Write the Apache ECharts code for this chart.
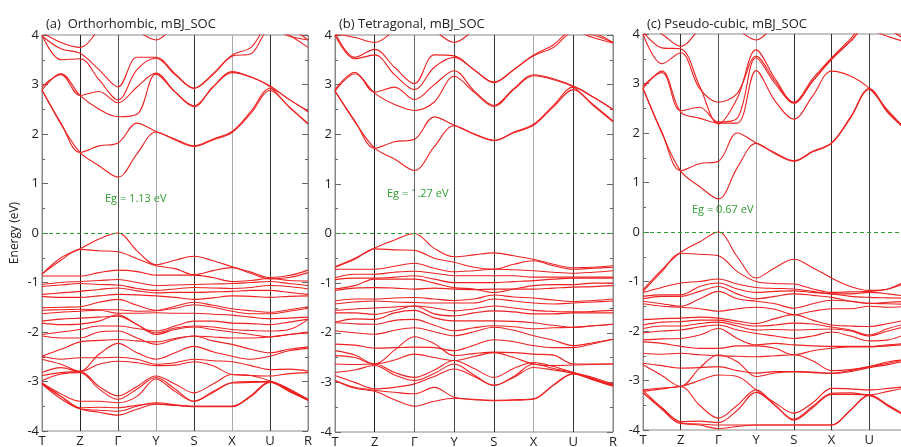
<!DOCTYPE html>
<html>
<head>
<meta charset="utf-8">
<script src="https://cdn.jsdelivr.net/npm/echarts@6/dist/echarts.min.js"></script>
<style>
  html, body { margin: 0; padding: 0; background: #fff; }
  #main { width: 901px; height: 447px; }
</style>
</head>
<body>
<div id="main"></div>
<script>
// k path labels and sampling (high-symmetry points + midpoints)
var kLabels = ['T', 'Z', 'Γ', 'Y', 'S', 'X', 'U', 'R'];
var kGrid = [0, 0.5, 1, 1.5, 2, 2.5, 3, 3.5, 4, 4.5, 5, 5.5, 6, 6.5, 7];
var titles = ['(a)  Orthorhombic, mBJ_SOC', '(b) Tetragonal, mBJ_SOC', '(c) Pseudo-cubic, mBJ_SOC'];
var gaps = ['Eg = 1.13 eV', 'Eg = 1.27 eV', 'Eg = 0.67 eV'];

// (a) orthorhombic: energies (eV) at T, TZ, Z, ZΓ, Γ, ΓY, Y, YS, S, SX, X, XU, U, UR, R
var condA = [
    [2.89, 2.20, 1.63, 1.36, 1.13, 1.60, 2.04, 1.88, 1.75, 1.88, 2.03, 2.42, 2.88, 2.55, 2.20],
    [2.89, 2.22, 1.63, 1.76, 1.82, 2.22, 2.05, 1.90, 1.76, 1.90, 2.05, 2.46, 2.92, 2.70, 2.45],
    [2.89, 3.22, 2.78, 2.50, 2.35, 2.40, 3.21, 2.85, 2.55, 2.95, 3.24, 3.15, 2.95, 2.55, 2.22],
    [2.95, 3.20, 2.78, 2.86, 2.63, 2.95, 3.23, 2.85, 2.57, 2.95, 3.26, 3.15, 2.97, 2.70, 2.47],
    [4.00, 3.50, 3.52, 3.10, 2.69, 3.30, 3.53, 3.20, 2.92, 3.20, 3.57, 3.62, 4.10, 4.10, 3.90],
    [3.98, 3.72, 3.63, 3.30, 2.95, 3.55, 3.55, 3.22, 2.93, 3.22, 3.59, 3.75, 4.20, 4.00, 3.75],
    [4.05, 3.85, 3.75, 4.10, 4.40, 4.10, 3.90, 4.20, 4.50, 4.50, 4.40, 4.30, 4.15, 3.98, 3.90]
];
var valA = [
    [-0.83, -0.50, -0.32, -0.12, 0.00, -0.36, -0.64, -0.55, -0.47, -0.56, -0.68, -0.79, -0.90, -0.86, -0.75],
    [-0.83, -0.55, -0.33, -0.36, -0.38, -0.52, -0.66, -0.72, -0.84, -0.76, -0.70, -0.82, -0.93, -0.90, -0.80],
    [-0.87, -0.87, -0.87, -0.80, -0.75, -0.78, -0.85, -0.85, -0.85, -0.90, -0.98, -0.96, -0.92, -0.96, -0.97],
    [-1.04, -1.00, -0.98, -0.96, -0.94, -1.00, -1.06, -1.05, -1.04, -1.03, -1.02, -1.00, -0.98, -1.02, -1.06],
    [-1.08, -1.05, -1.02, -1.04, -1.05, -1.12, -1.16, -1.13, -1.10, -1.11, -1.12, -1.10, -1.06, -1.08, -1.13],
    [-1.24, -1.21, -1.18, -1.14, -1.11, -1.17, -1.21, -1.20, -1.20, -1.19, -1.18, -1.16, -1.16, -1.20, -1.24],
    [-1.28, -1.30, -1.30, -1.27, -1.24, -1.25, -1.27, -1.30, -1.34, -1.31, -1.27, -1.28, -1.30, -1.28, -1.27],
    [-1.51, -1.50, -1.49, -1.40, -1.34, -1.46, -1.56, -1.48, -1.40, -1.46, -1.53, -1.57, -1.60, -1.55, -1.49],
    [-1.56, -1.55, -1.54, -1.55, -1.55, -1.58, -1.57, -1.52, -1.45, -1.50, -1.58, -1.63, -1.63, -1.58, -1.52],
    [-1.63, -1.60, -1.58, -1.56, -1.62, -1.62, -1.61, -1.62, -1.62, -1.64, -1.66, -1.70, -1.73, -1.72, -1.70],
    [-1.78, -1.74, -1.72, -1.70, -1.68, -1.85, -2.02, -1.92, -1.88, -1.90, -1.95, -1.97, -1.98, -1.95, -1.75],
    [-1.82, -1.85, -1.84, -1.78, -1.65, -1.85, -2.05, -1.95, -1.90, -1.95, -2.00, -2.05, -2.10, -2.05, -2.00],
    [-2.05, -2.00, -1.95, -1.88, -1.88, -1.93, -1.98, -1.88, -1.78, -1.78, -1.82, -1.83, -1.85, -1.80, -1.74],
    [-2.08, -2.12, -2.12, -2.00, -1.98, -2.12, -2.25, -2.15, -2.08, -2.10, -2.12, -2.12, -2.10, -2.05, -2.02],
    [-2.49, -2.35, -2.20, -2.17, -2.15, -2.18, -2.20, -2.13, -2.08, -2.18, -2.25, -2.35, -2.42, -2.35, -2.30],
    [-2.55, -2.65, -2.79, -2.45, -2.23, -2.42, -2.55, -2.42, -2.29, -2.40, -2.49, -2.55, -2.49, -2.38, -2.33],
    [-2.49, -2.55, -2.52, -2.52, -2.51, -2.55, -2.65, -2.62, -2.55, -2.58, -2.60, -2.68, -2.76, -2.75, -2.79],
    [-2.82, -2.72, -2.80, -2.65, -2.59, -2.62, -2.68, -2.67, -2.60, -2.68, -2.86, -2.88, -2.89, -2.84, -2.82],
    [-2.88, -2.82, -2.80, -3.10, -3.29, -3.10, -2.89, -3.05, -3.23, -3.05, -2.86, -2.88, -2.99, -3.15, -3.36],
    [-2.98, -2.85, -2.82, -3.15, -3.36, -3.15, -2.92, -3.15, -3.40, -3.20, -3.02, -3.00, -3.00, -3.18, -3.38],
    [-3.03, -3.25, -3.40, -3.40, -3.43, -3.30, -2.95, -3.20, -3.40, -3.22, -3.03, -3.02, -3.01, -3.15, -3.38],
    [-3.05, -3.30, -3.53, -3.52, -3.53, -3.48, -3.45, -3.48, -3.50, -3.50, -3.50, -3.30, -3.01, -3.18, -3.36],
    [-3.05, -3.35, -3.55, -3.58, -3.60, -3.50, -3.43, -3.47, -3.50, -3.50, -3.50, -3.30, -3.02, -3.20, -3.38],
    [-3.03, -3.30, -3.55, -3.62, -3.68, -3.56, -3.46, -3.48, -3.51, -3.51, -3.51, -3.28, -3.00, -3.18, -3.36]
];

// (b) tetragonal
var condB = [
    [2.87, 2.25, 1.72, 1.50, 1.27, 1.75, 2.17, 2.00, 1.87, 2.03, 2.18, 2.55, 2.90, 2.58, 2.25],
    [2.87, 2.27, 1.72, 1.85, 1.90, 2.35, 2.18, 2.01, 1.88, 2.04, 2.20, 2.58, 2.95, 2.75, 2.50],
    [2.87, 3.22, 2.83, 2.60, 2.48, 2.65, 3.17, 2.85, 2.56, 2.90, 3.18, 3.10, 2.95, 2.60, 2.27],
    [2.90, 3.25, 2.85, 2.95, 2.70, 3.00, 3.28, 2.88, 2.58, 2.92, 3.20, 3.12, 2.97, 2.75, 2.50],
    [4.00, 3.52, 3.60, 3.20, 2.90, 3.35, 3.55, 3.30, 3.04, 3.30, 3.58, 3.75, 4.05, 4.00, 3.85],
    [4.05, 3.55, 3.71, 3.35, 3.02, 3.60, 3.58, 3.30, 3.05, 3.30, 3.60, 3.80, 4.10, 4.05, 3.85],
    [4.02, 3.95, 3.85, 4.10, 4.40, 4.10, 3.85, 4.10, 4.40, 4.40, 4.30, 4.20, 4.10, 3.95, 3.84]
];
var valB = [
    [-0.67, -0.50, -0.29, -0.13, 0.00, -0.30, -0.47, -0.43, -0.39, -0.45, -0.52, -0.62, -0.69, -0.68, -0.65],
    [-0.68, -0.52, -0.31, -0.33, -0.34, -0.50, -0.58, -0.68, -0.72, -0.62, -0.55, -0.65, -0.72, -0.70, -0.68],
    [-0.72, -0.72, -0.72, -0.66, -0.60, -0.70, -0.77, -0.75, -0.72, -0.73, -0.75, -0.78, -0.80, -0.78, -0.75],
    [-0.89, -0.82, -0.82, -0.78, -0.76, -0.80, -0.85, -0.85, -0.85, -0.85, -0.88, -0.88, -0.88, -0.88, -0.88],
    [-0.93, -0.90, -0.90, -0.88, -0.85, -0.92, -0.99, -0.99, -0.99, -0.97, -0.95, -0.92, -0.90, -0.90, -0.90],
    [-1.12, -1.05, -0.92, -0.92, -0.92, -1.00, -1.09, -1.12, -1.19, -1.12, -1.05, -1.03, -1.03, -1.00, -1.00],
    [-1.15, -1.10, -1.09, -1.10, -1.12, -1.10, -1.12, -1.13, -1.12, -1.12, -1.12, -1.10, -1.08, -1.07, -1.05],
    [-1.36, -1.32, -1.32, -1.30, -1.29, -1.32, -1.35, -1.32, -1.24, -1.28, -1.30, -1.34, -1.37, -1.35, -1.32],
    [-1.42, -1.38, -1.36, -1.38, -1.39, -1.40, -1.40, -1.40, -1.32, -1.36, -1.40, -1.42, -1.40, -1.38, -1.36],
    [-1.55, -1.52, -1.50, -1.48, -1.46, -1.50, -1.56, -1.52, -1.46, -1.50, -1.55, -1.57, -1.58, -1.57, -1.55],
    [-1.60, -1.60, -1.63, -1.55, -1.46, -1.62, -1.66, -1.60, -1.56, -1.58, -1.62, -1.62, -1.60, -1.60, -1.60],
    [-1.79, -1.72, -1.73, -1.60, -1.55, -1.70, -1.76, -1.76, -1.76, -1.77, -1.80, -1.85, -1.89, -1.86, -1.83],
    [-1.80, -1.82, -1.83, -1.75, -1.73, -1.85, -1.96, -1.90, -1.86, -1.88, -1.92, -1.90, -1.89, -1.86, -1.83],
    [-1.96, -2.00, -2.03, -1.95, -1.90, -1.98, -2.06, -1.98, -1.89, -1.95, -2.06, -2.15, -2.26, -2.20, -2.13],
    [-2.23, -2.25, -2.31, -2.30, -2.29, -2.30, -2.36, -2.25, -2.14, -2.18, -2.26, -2.30, -2.30, -2.22, -2.13],
    [-2.36, -2.45, -2.63, -2.35, -2.08, -2.22, -2.46, -2.42, -2.39, -2.40, -2.43, -2.45, -2.63, -2.63, -2.63],
    [-2.46, -2.50, -2.63, -2.55, -2.43, -2.50, -2.56, -2.48, -2.40, -2.50, -2.63, -2.66, -2.65, -2.64, -2.63],
    [-2.63, -2.64, -2.63, -2.80, -2.90, -2.75, -2.56, -2.72, -2.90, -2.72, -2.60, -2.68, -2.80, -2.90, -3.03],
    [-2.80, -2.75, -2.66, -2.85, -2.96, -2.82, -2.63, -2.85, -3.06, -2.88, -2.63, -2.72, -2.80, -2.92, -3.05],
    [-2.86, -3.00, -3.13, -3.10, -3.03, -2.88, -2.73, -2.88, -3.06, -2.90, -2.70, -2.75, -2.82, -2.94, -3.06],
    [-2.96, -3.10, -3.16, -3.20, -3.23, -3.10, -3.30, -3.34, -3.36, -3.35, -3.33, -3.05, -2.82, -2.94, -3.07],
    [-2.96, -3.12, -3.18, -3.35, -3.48, -3.38, -3.32, -3.35, -3.37, -3.36, -3.34, -3.06, -2.83, -2.95, -3.08]
];

// (c) pseudo-cubic
var condC = [
    [2.90, 2.00, 1.23, 0.92, 0.67, 1.30, 1.79, 1.58, 1.43, 1.62, 1.79, 2.30, 2.88, 2.40, 2.05],
    [2.90, 2.02, 1.24, 1.38, 1.43, 2.00, 1.80, 1.60, 1.44, 1.63, 1.80, 2.32, 2.90, 2.42, 2.06],
    [2.90, 3.25, 2.42, 2.30, 2.20, 2.20, 3.26, 2.65, 2.28, 2.75, 3.25, 3.15, 2.90, 2.45, 2.05],
    [2.95, 3.22, 2.45, 2.52, 2.22, 2.30, 3.52, 3.00, 2.62, 3.05, 3.48, 3.85, 4.20, 4.10, 3.85],
    [4.00, 3.40, 3.62, 2.90, 2.62, 2.80, 3.55, 3.05, 2.60, 3.05, 3.50, 3.85, 4.20, 4.10, 3.85],
    [4.05, 3.72, 3.70, 2.95, 2.18, 2.70, 3.68, 3.10, 2.62, 3.10, 3.52, 3.90, 4.30, 4.20, 3.90],
    [4.20, 4.00, 3.75, 4.10, 4.40, 4.10, 3.88, 4.20, 4.50, 4.50, 4.40, 4.30, 4.10, 3.95, 3.83]
];
var valC = [
    [-1.17, -0.76, -0.41, -0.20, 0.00, -0.50, -0.93, -0.72, -0.55, -0.72, -0.93, -1.10, -1.18, -1.15, -0.97],
    [-1.20, -0.80, -0.43, -0.45, -0.48, -0.80, -1.00, -1.04, -1.05, -1.15, -1.22, -1.21, -1.20, -1.15, -1.02],
    [-1.22, -1.12, -1.03, -1.00, -0.95, -1.05, -1.12, -1.14, -1.15, -1.20, -1.25, -1.25, -1.22, -1.25, -1.30],
    [-1.30, -1.27, -1.27, -1.10, -1.03, -1.15, -1.22, -1.20, -1.19, -1.22, -1.25, -1.30, -1.32, -1.33, -1.34],
    [-1.35, -1.30, -1.30, -1.20, -1.10, -1.25, -1.35, -1.30, -1.25, -1.28, -1.32, -1.40, -1.44, -1.42, -1.40],
    [-1.40, -1.45, -1.50, -1.35, -1.20, -1.35, -1.40, -1.45, -1.54, -1.45, -1.38, -1.40, -1.44, -1.45, -1.46],
    [-1.45, -1.50, -1.52, -1.55, -1.60, -1.55, -1.52, -1.56, -1.67, -1.60, -1.55, -1.55, -1.50, -1.52, -1.50],
    [-1.77, -1.75, -1.74, -1.72, -1.74, -1.80, -1.85, -1.75, -1.67, -1.78, -1.88, -1.90, -1.91, -1.85, -1.77],
    [-1.88, -1.82, -1.81, -1.78, -1.78, -1.85, -1.90, -1.88, -1.84, -1.86, -1.92, -1.98, -2.08, -1.95, -1.85],
    [-1.95, -1.90, -1.90, -1.85, -1.82, -1.90, -1.98, -1.97, -1.98, -1.97, -1.96, -2.00, -2.10, -2.00, -1.90],
    [-2.04, -2.00, -1.98, -1.92, -1.88, -1.98, -2.05, -2.10, -2.15, -2.10, -2.02, -2.10, -2.20, -2.18, -2.05],
    [-2.18, -2.16, -2.15, -2.08, -1.95, -2.15, -2.28, -2.25, -2.28, -2.30, -2.31, -2.31, -2.31, -2.28, -2.25],
    [-2.22, -2.25, -2.31, -2.35, -2.35, -2.30, -2.30, -2.35, -2.48, -2.40, -2.35, -2.32, -2.32, -2.30, -2.27],
    [-2.45, -2.47, -2.45, -2.48, -2.50, -2.51, -2.52, -2.50, -2.48, -2.60, -2.80, -2.78, -2.72, -2.62, -2.58],
    [-2.65, -2.70, -2.75, -2.74, -2.72, -2.80, -2.85, -2.82, -2.82, -2.83, -2.85, -2.80, -2.72, -2.65, -2.58],
    [-2.68, -2.90, -3.12, -2.75, -2.48, -2.62, -2.92, -2.85, -2.82, -2.84, -2.86, -2.82, -2.74, -2.68, -2.60],
    [-3.19, -3.15, -3.12, -3.00, -2.89, -2.92, -3.19, -3.45, -3.66, -3.45, -3.16, -3.17, -3.19, -3.16, -3.12],
    [-3.22, -3.17, -3.12, -3.50, -3.76, -3.50, -3.19, -3.50, -3.78, -3.52, -3.26, -3.25, -3.29, -3.22, -3.14],
    [-3.25, -3.55, -3.83, -3.82, -3.85, -3.60, -3.24, -3.50, -3.80, -3.55, -3.28, -3.28, -3.30, -3.50, -3.73],
    [-3.25, -3.58, -3.87, -3.88, -3.90, -3.90, -3.90, -3.90, -3.90, -3.90, -3.90, -3.60, -3.29, -3.50, -3.73],
    [-3.20, -3.55, -3.85, -3.90, -3.97, -3.93, -3.90, -3.90, -3.90, -3.90, -3.90, -3.60, -3.30, -3.52, -3.74]
];

var panels = [condA.concat(valA), condB.concat(valB), condC.concat(valC)];
var grids = [
    {left: 42, top: 35, width: 266, height: 396},
    {left: 335, top: 35, width: 278, height: 397},
    {left: 643, top: 34, width: 264, height: 396}
];
var lineColors = [
    ['#888', '#222', '#555', '#aaa', '#333', '#aaa', '#333', '#888'],
    ['#888', '#222', '#666', '#444', '#333', '#aaa', '#333', '#888'],
    ['#888', '#333', '#555', '#aaa', '#333', '#333', '#444', '#888']
];
var gapPos = [[105, 193], [387, 188], [692, 204]];

var myChart = echarts.init(document.getElementById('main'));
var option = {
    animation: false,
    backgroundColor: '#fff',
    title: [],
    grid: [],
    xAxis: [],
    yAxis: [],
    series: [],
    graphic: []
};

for (var p = 0; p < 3; p++) {
    option.title.push({
        text: titles[p],
        left: grids[p].left - 1,
        top: 13,
        textStyle: {fontSize: 13, fontWeight: 'normal', color: '#222', fontFamily: 'Open Sans'}
    });
    option.grid.push({
        left: grids[p].left, top: grids[p].top, width: grids[p].width, height: grids[p].height,
        outerBoundsMode: 'none', containLabel: false,
        show: true, borderColor: '#8a8a8a', borderWidth: 1, backgroundColor: '#fff'
    });
    option.xAxis.push({
        type: 'value', gridIndex: p, min: 0, max: 7, interval: 1,
        axisLine: {show: false}, axisTick: {show: false},
        axisLabel: {
            margin: 4, fontSize: 13, color: '#222', fontFamily: 'Open Sans',
            formatter: function (v) { return kLabels[v]; }
        },
        splitLine: {show: true, lineStyle: {color: lineColors[p], width: 1}}
    });
    // left axis with labels
    option.yAxis.push({
        type: 'value', gridIndex: p, min: -4, max: 4, interval: 1,
        name: p === 0 ? 'Energy (eV)' : '',
        nameLocation: 'middle', nameGap: 21, nameRotate: 90,
        nameTextStyle: {fontSize: 12, color: '#222', fontFamily: 'Open Sans'},
        axisLine: {show: false},
        axisTick: {show: true, inside: true, length: 6, lineStyle: {color: '#666'}},
        minorTick: {show: true, splitNumber: 2, length: 3, lineStyle: {color: '#666'}},
        axisLabel: {margin: 3, fontSize: 13, color: '#222', fontFamily: 'Open Sans'},
        splitLine: {show: false}
    });
    // right axis, ticks only
    option.yAxis.push({
        type: 'value', gridIndex: p, position: 'right', min: -4, max: 4, interval: 1,
        axisLine: {show: false},
        axisTick: {show: true, inside: true, length: 6, lineStyle: {color: '#666'}},
        minorTick: {show: true, splitNumber: 2, length: 3, lineStyle: {color: '#666'}},
        axisLabel: {show: false},
        splitLine: {show: false}
    });
    var bands = panels[p];
    for (var b = 0; b < bands.length; b++) {
        var pts = [];
        for (var i = 0; i < kGrid.length; i++) {
            pts.push([kGrid[i], bands[b][i]]);
        }
        option.series.push({
            type: 'line', xAxisIndex: p, yAxisIndex: p * 2, data: pts,
            smooth: 0.35, showSymbol: false, silent: true, clip: true,
            lineStyle: {color: '#ee2222', width: 1.1}
        });
    }
    // Fermi level
    option.series.push({
        type: 'line', xAxisIndex: p, yAxisIndex: p * 2, data: [],
        silent: true,
        markLine: {
            symbol: 'none', silent: true, label: {show: false},
            lineStyle: {color: '#2ca02c', type: [4, 3], width: 1},
            data: [{yAxis: 0}]
        }
    });
    option.graphic.push({
        type: 'text', left: gapPos[p][0], top: gapPos[p][1],
        style: {text: gaps[p], fill: '#2e9e2e', fontSize: 11, fontFamily: 'Open Sans'}
    });
}

myChart.setOption(option);
</script>
</body>
</html>
